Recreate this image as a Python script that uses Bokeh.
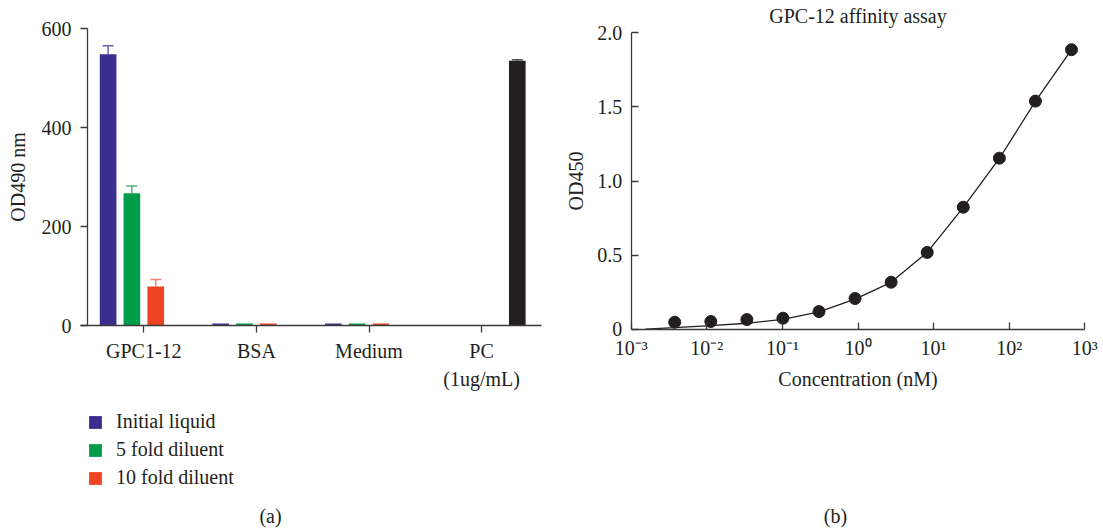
from bokeh.plotting import figure
from bokeh.models import (ColumnDataSource, Range1d, FixedTicker, Legend,
                          LegendItem, Label, Whisker, TeeHead)
from bokeh.transform import dodge
from bokeh.layouts import row
from bokeh.embed import file_html
from bokeh.resources import INLINE

# ---------------- data: panel (a) ----------------
categories = ["GPC1-12", "BSA", "Medium", "PC\n(1ug/mL)"]
legend_labels = ["Initial liquid", "5 fold diluent", "10 fold diluent"]
initial_liquid = [548, 4, 4, 0]
fold5_diluent = [267, 4, 4, 0]
fold10_diluent = [79, 4, 4, 0]
positive_control = [0, 0, 0, 535]
initial_err = [17, 0, 0, 0]
fold5_err = [15, 0, 0, 0]
fold10_err = [14, 0, 0, 0]
pc_err = [0, 0, 0, 2]
bar_yticks = [0, 200, 400, 600]

# ---------------- data: panel (b) ----------------
chart_title = "GPC-12 affinity assay"
conc_nM = [0.00376, 0.0113, 0.0339, 0.1016, 0.305, 0.914, 2.74, 8.23, 24.7, 74.1, 222.2, 666.7]
od450 = [0.047, 0.052, 0.065, 0.074, 0.119, 0.207, 0.317, 0.518, 0.823, 1.154, 1.539, 1.886]
fit_x = [0.00155, 0.00376, 0.0113, 0.0339, 0.1016, 0.305, 0.914, 2.74, 4.5, 8.23, 24.7, 74.1, 222.2, 666.7]
fit_y = [0.0, 0.010, 0.024, 0.040, 0.066, 0.117, 0.203, 0.316, 0.408, 0.519, 0.822, 1.152, 1.537, 1.886]
log_ticks = [0.001, 0.01, 0.1, 1.0, 10.0, 100.0, 1000.0]
log_tick_labels = ["10\u207b\u00b3", "10\u207b\u00b2", "10\u207b\u00b9", "10\u2070", "10\u00b9", "10\u00b2", "10\u00b3"]
od_ticks = [0.0, 0.5, 1.0, 1.5, 2.0]
od_tick_labels = ["0", "0.5", "1.0", "1.5", "2.0"]

# ---------------- styling / layout constants ----------------
FONT = "Liberation Serif"
TXT = "#231f20"
AX = "#3a3a3a"
bar_colors = ["#3a2e8f", "#009e4b", "#ef4323", "#231f20"]
err_colors = ["#6b62b2", "#4db274", "#f5826f", "#555555"]
offsets = [-0.317, -0.106, 0.106, 0.317]
bar_w = 0.148
H = 531
WA, WB = 560, 543
# Each frame fills its whole panel so that every text stays inside it; the axes
# are pinned with fixed_location and trimmed with bounds.
A_ZERO_PX, A_TOP_PX = 325, 28           # rows of y=0 and y=600 in panel (a)
A_CAT0_PX, A_CAT_STEP = 143.3, 112.6    # x pixel of first category centre, px per category
A_AXIS_X0 = -0.06                       # left end of the category axis line
B_ZERO_PX, B_TOP_PX = 328.7, 32.3       # rows of y=0 and y=2.0 in panel (b)
B_LEFT_PX, B_DECADE_PX = 70.7, 75.6     # x pixel of 1e-3 in panel (b), px per decade
a_k = (A_ZERO_PX - A_TOP_PX) / 600.0
b_k = (B_ZERO_PX - B_TOP_PX) / 2.0
a_yrange = (-(H - A_ZERO_PX) / a_k, 600 + A_TOP_PX / a_k)
a_xrange = (0.5 - A_CAT0_PX / A_CAT_STEP, 0.5 + (WA - A_CAT0_PX) / A_CAT_STEP)
b_yrange = (-(H - B_ZERO_PX) / b_k, 2.0 + B_TOP_PX / b_k)
b_xrange = (10 ** (-3 - B_LEFT_PX / B_DECADE_PX), 10 ** (-3 + (WB - B_LEFT_PX) / B_DECADE_PX))

cat_pos = [i + 0.5 for i in range(len(categories))]


def style_axes(p, size="20px"):
    for ax in p.xaxis + p.yaxis:
        ax.major_label_text_font = FONT
        ax.major_label_text_font_size = size
        ax.major_label_text_color = TXT
        ax.axis_label_text_font = FONT
        ax.axis_label_text_font_size = size
        ax.axis_label_text_font_style = "normal"
        ax.axis_label_text_color = TXT
        ax.axis_line_color = AX
        ax.axis_line_width = 1.3
        ax.major_tick_line_color = AX
        ax.major_tick_line_width = 1.3
        ax.minor_tick_line_color = None
    p.xgrid.grid_line_color = None
    p.ygrid.grid_line_color = None
    p.outline_line_color = None
    p.background_fill_color = "white"
    p.border_fill_color = "white"


def text_label(text, x, y):
    return Label(x=x, y=y, x_units="screen", y_units="screen", text=text,
                 text_align="center", text_baseline="middle", text_font=FONT,
                 text_font_size="20px", text_color=TXT)


# ---------------- panel (a) ----------------
left = figure(width=WA, height=H, x_range=Range1d(*a_xrange), y_range=Range1d(*a_yrange),
              output_backend="svg", toolbar_location=None,
              min_border_left=0, min_border_right=0, min_border_top=0, min_border_bottom=0)
style_axes(left)
left.yaxis.fixed_location = 0
left.yaxis.ticker = FixedTicker(ticks=bar_yticks, minor_ticks=[])
left.yaxis.bounds = (bar_yticks[0], bar_yticks[-1])
left.yaxis.axis_label = "OD490 nm"
left.yaxis.major_tick_in = 0
left.yaxis.major_tick_out = 7
left.yaxis.major_label_standoff = 9
left.yaxis.axis_label_standoff = 10
left.xaxis.fixed_location = 0
left.xaxis.bounds = (A_AXIS_X0, len(categories) + 0.03)
left.xaxis.ticker = FixedTicker(ticks=cat_pos, minor_ticks=[])
left.xaxis.major_label_overrides = dict(zip(cat_pos, categories))
left.xaxis.major_tick_in = 0
left.xaxis.major_tick_out = 7
left.xaxis.major_label_standoff = 7
left.xaxis.major_label_text_line_height = 1.3

series_vals = [initial_liquid, fold5_diluent, fold10_diluent, positive_control]
series_errs = [initial_err, fold5_err, fold10_err, pc_err]
bar_renderers = []
for vals, errs, col, ecol, off in zip(series_vals, series_errs, bar_colors, err_colors, offsets):
    src = ColumnDataSource(dict(x=cat_pos, val=vals))
    r = left.vbar(x=dodge("x", off), top="val", width=bar_w, source=src,
                  fill_color=col, line_color=None)
    bar_renderers.append(r)
    esrc = ColumnDataSource(dict(
        x=[c for c, e in zip(cat_pos, errs) if e > 0],
        lo=[v for v, e in zip(vals, errs) if e > 0],
        hi=[v + e for v, e in zip(vals, errs) if e > 0],
    ))
    w = Whisker(base=dodge("x", off), lower="lo", upper="hi", source=esrc,
                dimension="height", line_color=ecol, line_width=1.5, lower_head=None,
                upper_head=TeeHead(size=11, line_color=ecol, line_width=1.5))
    left.add_layout(w)

legend = Legend(items=[LegendItem(label=lab, renderers=[r]) for lab, r in zip(legend_labels, bar_renderers[:3])],
                location=(87, 42), orientation="vertical",
                glyph_width=16, glyph_height=16, label_height=18, spacing=5, padding=0, margin=0,
                label_standoff=13, label_text_font=FONT, label_text_font_size="20px",
                label_text_color=TXT, border_line_color=None, background_fill_alpha=0)
left.add_layout(legend, "center")
left.add_layout(text_label("(a)", 270, 16))

# ---------------- panel (b) ----------------
right = figure(width=WB, height=H, x_axis_type="log", x_range=Range1d(*b_xrange), y_range=Range1d(*b_yrange),
               output_backend="svg", toolbar_location=None,
               min_border_left=0, min_border_right=0, min_border_top=0, min_border_bottom=0)
style_axes(right)
right.xaxis.fixed_location = 0
right.xaxis.bounds = (log_ticks[0], log_ticks[-1])
right.xaxis.ticker = FixedTicker(ticks=log_ticks, minor_ticks=[])
right.xaxis.major_label_overrides = dict(zip(log_ticks, log_tick_labels))
right.yaxis.fixed_location = log_ticks[0]
right.yaxis.ticker = FixedTicker(ticks=od_ticks, minor_ticks=[])
right.yaxis.major_label_overrides = dict(zip(od_ticks, od_tick_labels))
right.yaxis.bounds = (od_ticks[0], od_ticks[-1])
for ax in right.xaxis + right.yaxis:
    ax.major_tick_in = 7
    ax.major_tick_out = 0
right.xaxis.axis_label = "Concentration (nM)"
right.yaxis.axis_label = "OD450"
right.xaxis.major_label_standoff = 8
right.yaxis.major_label_standoff = 9
right.yaxis.axis_label_standoff = 8

right.line(fit_x, fit_y, line_color="#231f20", line_width=1.3)
right.scatter(conc_nM, od450, size=12, fill_color="#231f20", line_color="#231f20")
right.add_layout(text_label(chart_title, 297.5, H - 15))
right.add_layout(text_label("(b)", 275, 16))

layout = row(left, right)
open("out.html", "w").write(file_html(layout, INLINE))
